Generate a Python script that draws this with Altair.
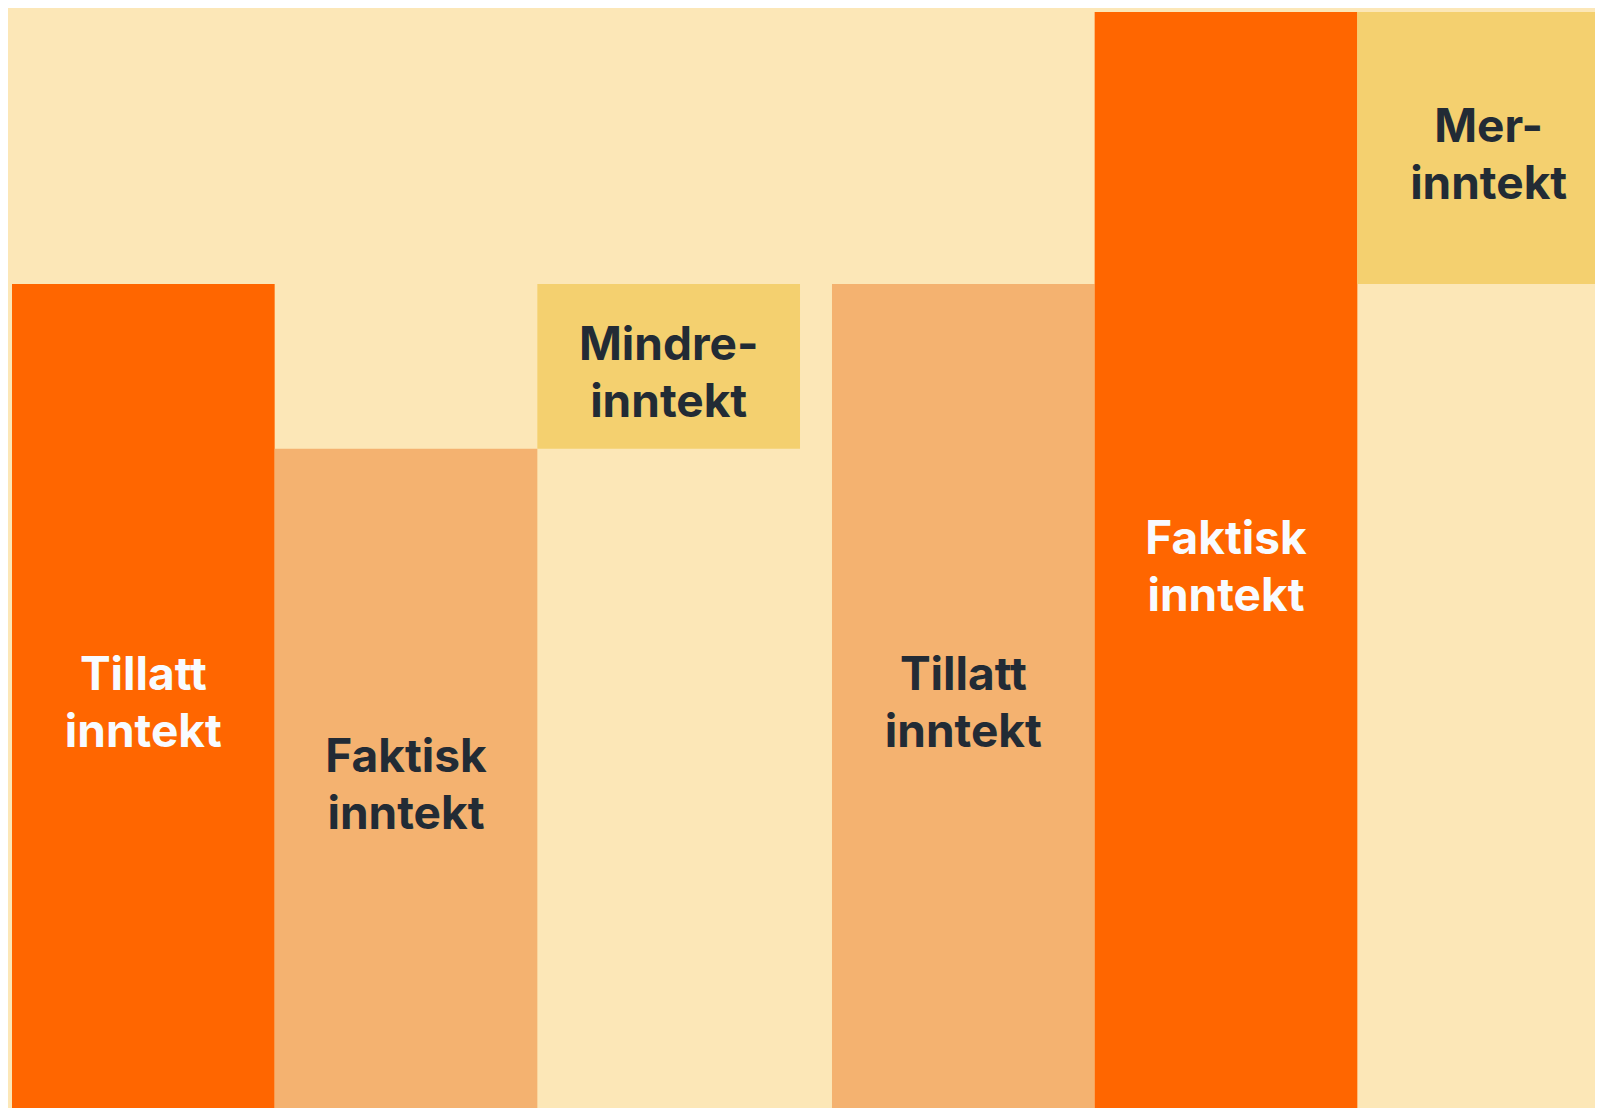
import altair as alt
import pandas as pd

# Data
grupper = ["Mindreinntekt", "Merinntekt"]
kolonner = ["Tillatt", "Faktisk", "Differanse"]
tillatt = [100, 100]
faktisk = [80, 133]
etikett_tillatt = "Tillatt\ninntekt"
etikett_faktisk = "Faktisk\ninntekt"
etikett_diff = ["Mindre-\ninntekt", "Mer-\ninntekt"]

rows = []
for g, t, f, d in zip(grupper, tillatt, faktisk, etikett_diff):
    hi = max(t, f)
    rows.append({"gruppe": g, "kolonne": "Tillatt", "y0": 0, "y1": t,
                 "type": "høy" if t == hi else "lav", "etikett": etikett_tillatt})
    rows.append({"gruppe": g, "kolonne": "Faktisk", "y0": 0, "y1": f,
                 "type": "høy" if f == hi else "lav", "etikett": etikett_faktisk})
    rows.append({"gruppe": g, "kolonne": "Differanse", "y0": min(t, f), "y1": hi,
                 "type": "diff", "etikett": d})
df = pd.DataFrame(rows)

x_enc = alt.X("gruppe:N", sort=grupper, axis=None,
              scale=alt.Scale(range=[4, 1612], paddingInner=0.039, paddingOuter=0))
xo_enc = alt.XOffset("kolonne:N", sort=kolonner,
                     scale=alt.Scale(paddingInner=0, paddingOuter=0))
y_scale = alt.Scale(domain=[0, 133.5], nice=False, zero=True)

base = alt.Chart(df)

bars = base.mark_rect(strokeWidth=0).encode(
    x=x_enc,
    xOffset=xo_enc,
    y=alt.Y("y0:Q", axis=None, scale=y_scale),
    y2="y1:Q",
    color=alt.Color("type:N", legend=None,
                    scale=alt.Scale(domain=["høy", "lav", "diff"],
                                    range=["#FF6600", "#F4B270", "#F4D06F"])),
)

labels = base.transform_calculate(
    ymid="(datum.y0 + datum.y1) / 2"
).mark_text(
    font="Inter", fontSize=46, fontWeight="bold", lineHeight=57, dy=-20,
    align="center", baseline="middle", lineBreak="\n",
).encode(
    x=x_enc,
    xOffset=xo_enc,
    y=alt.Y("ymid:Q", axis=None, scale=y_scale),
    text="etikett:N",
    color=alt.Color("type:N", legend=None,
                    scale=alt.Scale(domain=["høy", "lav", "diff"],
                                    range=["#F8FBFF", "#222B35", "#222B35"])),
)

chart = alt.layer(bars, labels).resolve_scale(color="independent").properties(
    width=1587, height=1100, background="#FCE7B7", padding=0,
    autosize=alt.AutoSizeParams(type="none"),
).configure_view(stroke=None)

chart.save("out.html", embed_options={"renderer": "svg", "actions": False})
